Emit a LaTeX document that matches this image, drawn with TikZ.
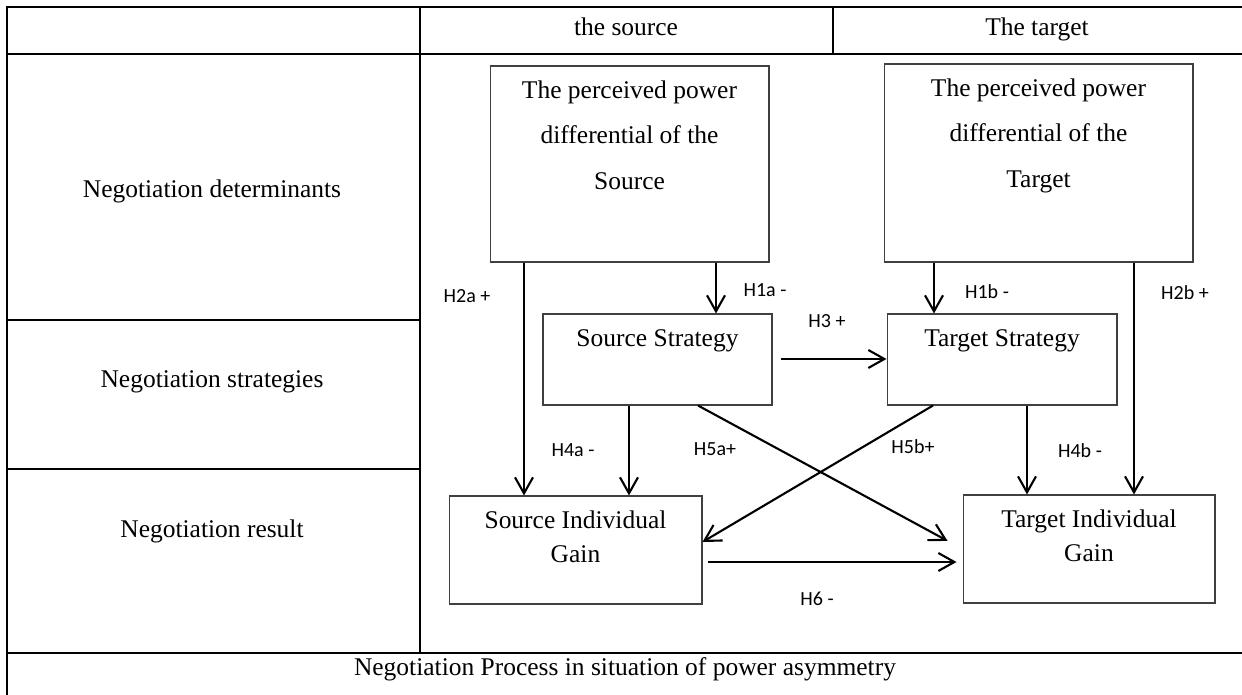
\documentclass[tikz,border=0pt]{standalone}
\usepackage{fontspec}
\setmainfont{Liberation Serif}
\newfontfamily\hfont{Carlito}
\usetikzlibrary{arrows.meta}

% text of a box: width, height, line distance, lines
\newcommand{\boxtxt}[4]{\parbox[c][#2][t]{#1}{\centering\setlength{\baselineskip}{#3}\rule{0pt}{0.65cm}#4\par}}

\begin{document}
\begin{tikzpicture}[x=0.02cm,y=-0.02cm,
		frame/.style={line width=1pt},
		arr/.style={line width=1.2pt,-{Straight Barb[length=3.2mm,width=3.6mm]}}]
		\useasboundingbox (0,0) rectangle (1242,695);
		
		% table
		\draw[frame] (7,695) -- (7,7) -- (1242,7);
		\draw[frame] (7,54) -- (1242,54);
		\draw[frame] (420,7) -- (420,653);
		\draw[frame] (833,7) -- (833,54);
		\draw[frame] (7,320) -- (420,320);
		\draw[frame] (7,469) -- (420,469);
		\draw[frame] (7,653) -- (1242,653);
		
		\begin{scope}[every node/.style={font=\fontsize{14.5}{17}\selectfont,
				text height=2.4ex,text depth=.6ex}]
			\node (hsrc) at (626,28) {the source};
			\node (htgt) at (1037,28) {The target};
			\node (ldet) at (212,190) {Negotiation determinants};
			\node (lstr) at (212,380) {Negotiation strategies};
			\node (lres) at (212,530) {Negotiation result};
			\node (cap) at (625,668) {Negotiation Process in situation of power asymmetry};
		\end{scope}
		
		\begin{scope}[every node/.style={draw=black!75,line width=0.6pt,inner sep=0pt,
				font=\fontsize{14.5}{17}\selectfont}]
			\node (spow) at (629.5,164) {\boxtxt{5.58cm}{3.92cm}{0.91cm}{The perceived power\\differential of the\\Source}};
			\node (tpow) at (1038.5,163) {\boxtxt{6.18cm}{3.96cm}{0.91cm}{The perceived power\\differential of the\\Target}};
			\node (sstr) at (657.5,359.5) {\boxtxt{4.58cm}{1.82cm}{0.68cm}{Source Strategy}};
			\node (tstr) at (1002,359.5) {\boxtxt{4.6cm}{1.82cm}{0.68cm}{Target Strategy}};
			\node (sgain) at (575.5,550) {\boxtxt{5.06cm}{2.16cm}{0.68cm}{Source Individual\\Gain}};
			\node (tgain) at (1089,549) {\boxtxt{5.04cm}{2.16cm}{0.68cm}{Target Individual\\Gain}};
		\end{scope}
		
		\begin{scope}[every node/.style={font=\hfont\fontsize{11.4}{13}\selectfont}]
			\node (h2a) at (467,296) {H2a +};
			\node (h1a) at (765,290) {H1a -};
			\node (h3) at (827,321) {H3 +};
			\node (h1b) at (987,292) {H1b -};
			\node (h2b) at (1185,293) {H2b +};
			\node (h4a) at (573,450) {H4a -};
			\node (h5a) at (715,449) {H5a+};
			\node (h5b) at (913,447) {H5b+};
			\node (h4b) at (1080,451) {H4b -};
			\node (h6) at (817,599) {H6 -};
		\end{scope}
		
		\draw[arr] (524,0 |- spow.south) -- (524,0 |- sgain.north);
		\draw[arr] (716,0 |- spow.south) -- (716,0 |- sstr.north);
		\draw[arr] (934,0 |- tpow.south) -- (934,0 |- tstr.north);
		\draw[arr] (1134,0 |- tpow.south) -- (1134,0 |- tgain.north);
		\draw[arr,shorten <=0.16cm] (sstr.east |- 0,359) -- (tstr.west |- 0,359);
		\draw[arr] (629,0 |- sstr.south) -- (629,0 |- sgain.north);
		\draw[arr] (1027,0 |- tstr.south) -- (1027,0 |- tgain.north);
		\draw[arr,shorten >=0.34cm] (698,0 |- sstr.south) -- (tgain.west);
		\draw[arr] (933,0 |- tstr.south) -- (sgain.east |- 0,542);
		\draw[arr,shorten <=0.1cm,shorten >=0.12cm] (sgain.east |- 0,562) -- (tgain.west |- 0,562);
\end{tikzpicture}
\end{document}
